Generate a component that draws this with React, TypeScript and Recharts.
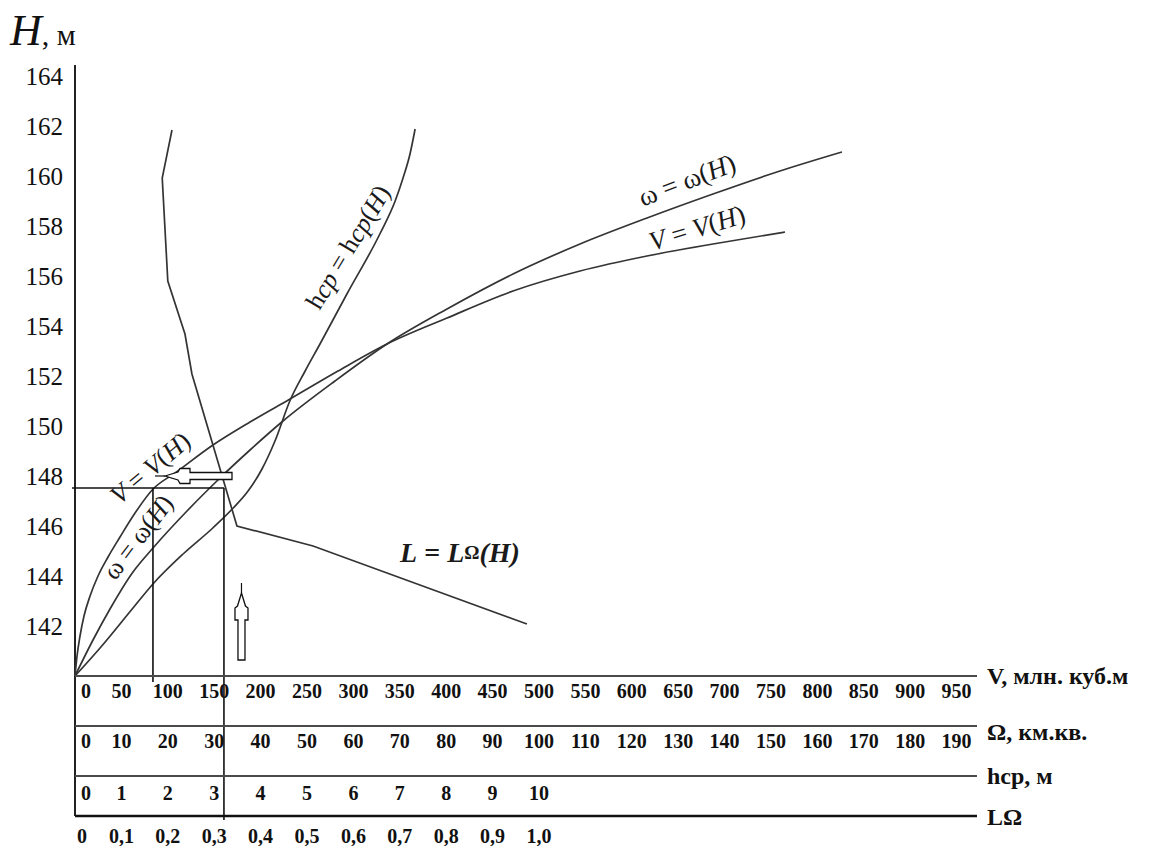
import React from 'react';
import { LineChart, Line, XAxis, YAxis, ReferenceLine, ReferenceDot } from 'recharts';

const SERIF = '"Liberation Serif", "Times New Roman", "DejaVu Serif", serif';
const INK = '#111';
const CURVE = '#343434';

// V = V(H): height H (m) and volume V (млн. куб.м)
const volumeH = [140, 140.8, 141.6, 142.4, 143.2, 144.0, 144.76, 145.56, 146.52, 147.48, 148.12, 149.24, 150.16, 151.08, 152.2, 153.28, 154.32, 155.4, 156.2, 156.8, 157.28, 157.76];
const volumeV = [0, 2.2, 5.4, 9.7, 16.2, 24.8, 35.6, 48.5, 64.7, 84.1, 107.8, 148.7, 188.6, 231.7, 283.4, 336.2, 400.9, 472.0, 544.2, 616.4, 687.5, 765.1];

// ω = ω(H): height H (m) and area Ω (км.кв.)
const areaH = [140, 141.44, 142.68, 144.16, 145.12, 146.6, 147.92, 149.04, 150.2, 151.8, 153.28, 154.68, 156.08, 157.28, 158.32, 159.28, 160.2, 160.96];
const areaW = [0, 3.88, 7.54, 12.5, 16.81, 24.14, 31.25, 37.72, 44.83, 56.03, 67.24, 80.17, 94.4, 108.84, 123.28, 137.5, 151.94, 165.3];

// hcp = hcp(H): height H (m) and mean depth hcp (м)
const depthH = [140, 141.12, 142.72, 143.68, 144.88, 145.92, 146.72, 147.4, 148.28, 149.4, 151.0, 152.2, 153.28, 155.28, 157.68, 159.0, 159.92, 160.88, 161.88];
const depthHcp = [0, 0.54, 1.25, 1.68, 2.33, 2.97, 3.41, 3.73, 4.03, 4.31, 4.63, 4.96, 5.28, 5.86, 6.57, 6.9, 7.07, 7.22, 7.33];

// L = LΩ(H): height H (m) and LΩ
const lengthH = [161.84, 159.92, 155.8, 153.68, 152.08, 146.0, 145.2, 142.08];
const lengthL = [0.209, 0.188, 0.2, 0.237, 0.252, 0.349, 0.513, 0.974];

// tick labels
const hTicks = [142, 144, 146, 148, 150, 152, 154, 156, 158, 160, 162, 164];
const vTicks = [0, 50, 100, 150, 200, 250, 300, 350, 400, 450, 500, 550, 600, 650, 700, 750, 800, 850, 900, 950];
const wTicks = [0, 10, 20, 30, 40, 50, 60, 70, 80, 90, 100, 110, 120, 130, 140, 150, 160, 170, 180, 190];
const hcpTicks = [0, 1, 2, 3, 4, 5, 6, 7, 8, 9, 10];
const lTicks = [0, 0.1, 0.2, 0.3, 0.4, 0.5, 0.6, 0.7, 0.8, 0.9, 1.0];

// axis ranges
const hDomain = [140, 164];
const vDomain = [0, 972];
const wDomain = [0, 194.4];
const hcpDomain = [0, 19.44];
const lDomain = [0, 1.944];

// worked example (guide lines)
const guideH = 147.52;
const guideV = 84;
const guideL = 0.321;
const guideStartV = -3.2;
const guideEndV = 160.6;
const guideVBottomH = 139.76;
const guideLBottomH = 134.24;
const frameTopH = 164.44;
const frameBottomH = 134.4;

const volumeData = volumeH.map((h, i) => ({ x: volumeV[i], h }));
const areaData = areaH.map((h, i) => ({ x: areaW[i], h }));
const depthData = depthH.map((h, i) => ({ x: depthHcp[i], h }));
const lengthData = lengthH.map((h, i) => ({ x: lengthL[i], h }));

const rowTick = (dy: number, zeroShift: number, fmt: (v: number) => string) => (props: any) => {
  const { x, y, payload } = props;
  const v = Number(payload.value);
  const zero = v === 0;
  return (
    <text
      x={zero ? x + zeroShift : x}
      y={y + dy}
      textAnchor={zero ? 'start' : 'middle'}
      fontFamily={SERIF}
      fontWeight="bold"
      fontSize={20}
      fill={INK}
    >
      {fmt(v)}
    </text>
  );
};

const sideLabel = (content: React.ReactNode, dy: number) => (props: any) => {
  const vb = props.viewBox || { x: 0, y: 0, width: 0, height: 0 };
  return (
    <text x={vb.x + vb.width + 10} y={vb.y + dy} fontFamily={SERIF} fontWeight="bold" fontSize={24} fill={INK}>
      {content}
    </text>
  );
};

const yTick = (props: any) => (
  <text x={props.x} y={props.y + 9} textAnchor="end" fontFamily={SERIF} fontSize={25} fill={INK}>
    {props.payload.value}
  </text>
);

const yTitle = (props: any) => {
  const vb = props.viewBox || { x: 0, y: 76 };
  return (
    <text x={vb.x + 10} y={vb.y - 31} fontFamily={SERIF} fill={INK}>
      <tspan fontStyle="italic" fontSize={44}>H</tspan>
      <tspan fontSize={30}>, м</tspan>
    </text>
  );
};

const curveLabel = (content: React.ReactNode, angle: number, size: number, bold = false) => (props: any) => (
  <text
    transform={`translate(${props.cx},${props.cy}) rotate(${angle})`}
    textAnchor="middle"
    dominantBaseline="central"
    fontFamily={SERIF}
    fontSize={size}
    fontWeight={bold ? 'bold' : 'normal'}
    fill="#1a1a1a"
  >
    {content}
  </text>
);

const leftArrow = (props: any) => {
  const { cx, cy } = props;
  const pts = [
    [10, 0], [23, -4], [25, -7.5], [35, -7.5], [35, -3.5], [77, -3.5],
    [77, 3.5], [35, 3.5], [35, 7.5], [25, 7.5], [23, 4],
  ].map(([a, b]) => `${cx + a},${cy + b}`).join(' ');
  return (
    <g>
      <line x1={cx} y1={cy} x2={cx + 10} y2={cy} stroke={INK} strokeWidth={1.2} />
      <polygon points={pts} fill="#fff" stroke={INK} strokeWidth={1.3} />
    </g>
  );
};

const upArrow = (props: any) => {
  const { cx, cy } = props;
  const pts = [
    [0, 10], [4, 23], [6.5, 25], [6.5, 37], [3.5, 37], [3.5, 77],
    [-3.5, 77], [-3.5, 37], [-6.5, 37], [-6.5, 25], [-4, 23],
  ].map(([a, b]) => `${cx + a},${cy + b}`).join(' ');
  return (
    <g>
      <line x1={cx} y1={cy} x2={cx} y2={cy + 10} stroke={INK} strokeWidth={1.2} />
      <polygon points={pts} fill="#fff" stroke={INK} strokeWidth={1.3} />
    </g>
  );
};

const it = (s: string) => <tspan fontStyle="italic">{s}</tspan>;

export default function App() {
  return (
    <div style={{ position: 'absolute', left: 0, top: 0, width: 1163, height: 846, background: '#fff' }}>
      <LineChart width={1163} height={846} margin={{ top: 76, right: 186, bottom: 0, left: 0 }}>
        <XAxis
          xAxisId="a"
          type="number"
          dataKey="x"
          domain={vDomain}
          ticks={vTicks}
          interval={0}
          height={50}
          tickLine={false}
          tickSize={0}
          tickMargin={0}
          axisLine={{ stroke: '#4a4a4a', strokeWidth: 2 }}
          tick={rowTick(22, 6, (v) => String(v))}
          label={sideLabel('V, млн. куб.м', 8)}
        />
        <XAxis
          xAxisId="b"
          type="number"
          dataKey="x"
          domain={wDomain}
          ticks={wTicks}
          interval={0}
          height={50}
          tickLine={false}
          tickSize={0}
          tickMargin={0}
          axisLine={{ stroke: '#4a4a4a', strokeWidth: 2 }}
          tick={rowTick(22, 6, (v) => String(v))}
          label={sideLabel('Ω, км.кв.', 14)}
        />
        <XAxis
          xAxisId="c"
          type="number"
          dataKey="x"
          domain={hcpDomain}
          ticks={hcpTicks}
          interval={0}
          height={40}
          tickLine={false}
          tickSize={0}
          tickMargin={0}
          axisLine={{ stroke: '#4a4a4a', strokeWidth: 2 }}
          tick={rowTick(24, 6, (v) => String(v))}
          label={sideLabel('hcp, м', 8)}
        />
        <XAxis
          xAxisId="d"
          type="number"
          dataKey="x"
          domain={lDomain}
          ticks={lTicks}
          interval={0}
          height={30}
          tickLine={false}
          tickSize={0}
          tickMargin={0}
          axisLine={{ stroke: '#111', strokeWidth: 2.5 }}
          tick={rowTick(27, 2, (v) => (v === 0 ? '0' : v.toFixed(1).replace('.', ',')))}
          label={sideLabel('LΩ', 9)}
        />
        <YAxis
          type="number"
          domain={hDomain}
          ticks={hTicks}
          interval={0}
          width={75}
          axisLine={false}
          tickLine={false}
          tickSize={0}
          tickMargin={12}
          tick={yTick}
          label={yTitle}
        />

        <ReferenceLine
          xAxisId="a"
          segment={[{ x: 0, y: frameBottomH }, { x: 0, y: frameTopH }]}
          ifOverflow="visible"
          stroke="#222"
          strokeWidth={2}
        />

        <Line xAxisId="a" data={volumeData} dataKey="h" type="monotone" stroke={CURVE} strokeWidth={1.7} dot={false} activeDot={false} isAnimationActive={false} />
        <Line xAxisId="b" data={areaData} dataKey="h" type="monotone" stroke={CURVE} strokeWidth={1.7} dot={false} activeDot={false} isAnimationActive={false} />
        <Line xAxisId="c" data={depthData} dataKey="h" type="monotone" stroke={CURVE} strokeWidth={1.7} dot={false} activeDot={false} isAnimationActive={false} />
        <Line xAxisId="d" data={lengthData} dataKey="h" type="linear" stroke={CURVE} strokeWidth={1.7} dot={false} activeDot={false} isAnimationActive={false} />

        <ReferenceLine
          xAxisId="a"
          segment={[{ x: guideStartV, y: guideH }, { x: guideEndV, y: guideH }]}
          ifOverflow="visible"
          stroke={INK}
          strokeWidth={1.6}
        />
        <ReferenceLine
          xAxisId="a"
          segment={[{ x: guideV, y: guideH }, { x: guideV, y: guideVBottomH }]}
          ifOverflow="visible"
          stroke={INK}
          strokeWidth={1.6}
        />
        <ReferenceLine
          xAxisId="d"
          segment={[{ x: guideL, y: guideH }, { x: guideL, y: guideLBottomH }]}
          ifOverflow="visible"
          stroke={INK}
          strokeWidth={1.6}
        />

        <ReferenceDot xAxisId="a" x={86.2} y={148.0} ifOverflow="visible" shape={leftArrow} />
        <ReferenceDot xAxisId="a" x={179.4} y={143.72} ifOverflow="visible" shape={upArrow} />

        <ReferenceDot xAxisId="a" x={80.8} y={148.32} ifOverflow="visible"
          shape={curveLabel(<>{it('V')} = {it('V')}({it('H')})</>, -40, 26)} />
        <ReferenceDot xAxisId="a" x={67.9} y={145.56} ifOverflow="visible"
          shape={curveLabel(<>ω = ω({it('H')})</>, -53, 26)} />
        <ReferenceDot xAxisId="a" x={294.2} y={157.16} ifOverflow="visible"
          shape={curveLabel(<>h{it('cp')} = h{it('cp')}({it('H')})</>, -59, 26)} />
        <ReferenceDot xAxisId="a" x={659.5} y={159.84} ifOverflow="visible"
          shape={curveLabel(<>ω = ω({it('H')})</>, -21, 27)} />
        <ReferenceDot xAxisId="a" x={670.3} y={157.92} ifOverflow="visible"
          shape={curveLabel(<>{it('V')} = {it('V')}({it('H')})</>, -17, 27)} />
        <ReferenceDot xAxisId="a" x={414.9} y={144.96} ifOverflow="visible"
          shape={curveLabel(<>{it('L')} = {it('L')}<tspan fontSize={19}>Ω</tspan>{it('(H)')}</>, 0, 28, true)} />
      </LineChart>
    </div>
  );
}
